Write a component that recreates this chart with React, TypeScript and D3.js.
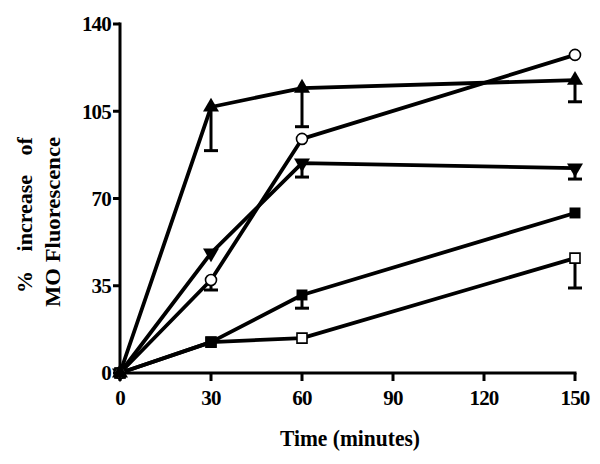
import * as d3 from 'd3';

const times = [0, 30, 60, 150];
const xTicks = [0, 30, 60, 90, 120, 150];
const yTicks = [0, 35, 70, 105, 140];

// one-sided (lower) error bars as shown in the figure
const triUp = [0, 106.7, 114.3, 117.5];
const triUpErr = [0, 17.5, 15.5, 8.7];
const circle = [0, 37.3, 93.9, 127.6];
const circleErr = [0, 4, 0, 0];
const triDown = [0, 48.1, 84.2, 82.2];
const triDownErr = [0, 0, 5.6, 4.4];
const sqFilled = [0, 12.4, 31.3, 64.2];
const sqFilledErr = [0, 0, 5.3, 0];
const sqOpen = [0, 12.4, 14.0, 46.1];
const sqOpenErr = [0, 0, 0, 12];

type Series = { values: number[]; err: number[]; marker: string };

const series: Series[] = [
  { values: sqOpen, err: sqOpenErr, marker: 'squareOpen' },
  { values: sqFilled, err: sqFilledErr, marker: 'square' },
  { values: triDown, err: triDownErr, marker: 'triDown' },
  { values: circle, err: circleErr, marker: 'circle' },
  { values: triUp, err: triUpErr, marker: 'triUp' },
];

const font = '"Liberation Serif", "Times New Roman", serif';

const App = () => {
  const x = d3.scaleLinear().domain([0, 150]).range([120, 575]);
  const y = d3.scaleLinear().domain([0, 140]).range([373, 24]);

  const line = d3.line<number>()
    .x((_, i) => x(times[i]))
    .y(d => y(d));

  const tri = d3.symbol().type(d3.symbolTriangle).size(110)();
  const sq = d3.symbol().type(d3.symbolSquare).size(120)();
  const sqOpenPath = d3.symbol().type(d3.symbolSquare).size(100)();

  const marker = (kind: string, cx: number, cy: number, key: string) => {
    const t = `translate(${cx},${cy})`;
    if (kind === 'triUp') return <path key={key} d={tri!} transform={t} fill="#000" />;
    if (kind === 'triDown') return <path key={key} d={tri!} transform={`${t} rotate(180)`} fill="#000" />;
    if (kind === 'square') return <path key={key} d={sq!} transform={t} fill="#000" />;
    if (kind === 'squareOpen') return <path key={key} d={sqOpenPath!} transform={t} fill="#fff" stroke="#000" strokeWidth={1.6} />;
    return <circle key={key} cx={cx} cy={cy} r={5.5} fill="#fff" stroke="#000" strokeWidth={1.6} />;
  };

  return (
    <svg width={600} height={464} style={{ position: 'absolute', left: 0, top: 0, background: '#fff' }} fontFamily={font}>
      {/* error bars */}
      {series.map((s, si) =>
        s.values.map((v, i) =>
          s.err[i] > 0 ? (
            <g key={`e${si}-${i}`} stroke="#000" strokeWidth={3}>
              <line x1={x(times[i])} x2={x(times[i])} y1={y(v)} y2={y(v - s.err[i])} />
              <line x1={x(times[i]) - 7} x2={x(times[i]) + 7} y1={y(v - s.err[i])} y2={y(v - s.err[i])} />
            </g>
          ) : null
        )
      )}
      {/* lines */}
      {series.map((s, si) => (
        <path key={`l${si}`} d={line(s.values)!} fill="none" stroke="#000" strokeWidth={3.8} strokeLinejoin="round" />
      ))}
      {/* markers */}
      {series.map((s, si) =>
        s.values.map((v, i) => marker(s.marker, x(times[i]), y(v), `m${si}-${i}`))
      )}

      {/* y axis */}
      <line x1={x(0)} x2={x(0)} y1={y(0) + 1.5} y2={y(140) - 1.5} stroke="#000" strokeWidth={3} />
      {yTicks.map(t => (
        <g key={`yt${t}`}>
          <line x1={x(0) - 7} x2={x(0)} y1={y(t)} y2={y(t)} stroke="#000" strokeWidth={3} />
          <text x={x(0) - 9} y={y(t)} dy="0.35em" textAnchor="end" fontSize={21} fontWeight="bold" letterSpacing={-0.8}>{t}</text>
        </g>
      ))}

      {/* x axis */}
      <line x1={x(0) - 1.5} x2={x(150) + 1.5} y1={y(0)} y2={y(0)} stroke="#000" strokeWidth={3} />
      {xTicks.map(t => (
        <g key={`xt${t}`}>
          <line x1={x(t)} x2={x(t)} y1={y(0)} y2={y(0) + 8} stroke="#000" strokeWidth={3} />
          <text x={x(t)} y={405} textAnchor="middle" fontSize={21} fontWeight="bold" letterSpacing={-0.8}>{t}</text>
        </g>
      ))}

      <text x={350} y={446} textAnchor="middle" fontSize={23} fontWeight="bold" textLength={140} lengthAdjust="spacingAndGlyphs">Time (minutes)</text>

      <g transform="translate(32,215) rotate(-90)">
        <text x={0} y={0} textAnchor="middle" fontSize={22} fontWeight="bold" wordSpacing={14}>% increase of</text>
      </g>
      <g transform="translate(60,222) rotate(-90)">
        <text x={0} y={0} textAnchor="middle" fontSize={22} fontWeight="bold" textLength={170} lengthAdjust="spacingAndGlyphs">MO Fluorescence</text>
      </g>
    </svg>
  );
};

export default App;
